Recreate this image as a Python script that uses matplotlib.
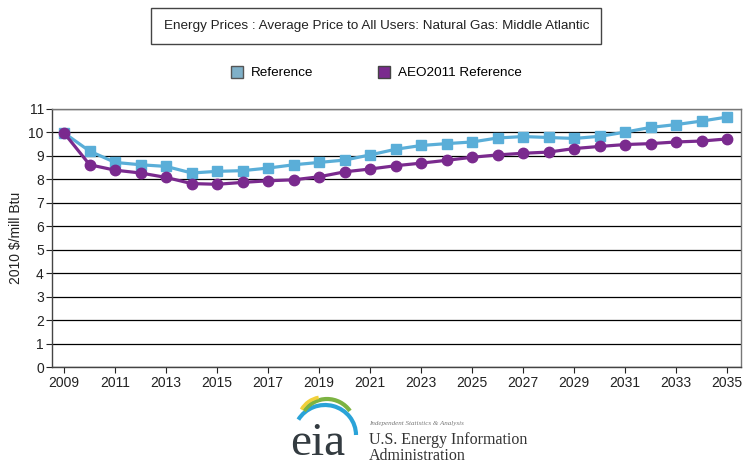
import numpy as np
import matplotlib
matplotlib.use("Agg")
import matplotlib.pyplot as plt
from matplotlib.patches import Arc

years = list(range(2009, 2036))
reference = [9.96, 9.19, 8.71, 8.61, 8.54, 8.26, 8.33, 8.36, 8.47, 8.61, 8.71, 8.81, 9.03,
             9.27, 9.43, 9.51, 9.58, 9.75, 9.81, 9.77, 9.73, 9.82, 10.0, 10.2, 10.32, 10.47, 10.64]
aeo2011 = [9.96, 8.61, 8.38, 8.26, 8.07, 7.81, 7.78, 7.86, 7.93, 7.97, 8.1, 8.31, 8.43,
           8.57, 8.68, 8.8, 8.93, 9.03, 9.1, 9.15, 9.3, 9.39, 9.47, 9.51, 9.58, 9.62, 9.71]
xlabels = [str(y) for y in range(2009, 2036, 2)]

plt.rcParams['font.family'] = ['Liberation Sans', 'DejaVu Sans']

fig = plt.figure(figsize=(7.45, 4.66), dpi=100)
ax = fig.add_axes([0.07, 0.212, 0.925, 0.555])

c_ref = '#5aaed8'
c_aeo = '#7a2a8e'
ax.plot(years, reference, color=c_ref, lw=2.3, marker='s', ms=6.5, label='Reference', zorder=3)
ax.plot(years, aeo2011, color=c_aeo, lw=2.3, marker='o', ms=7.5, label='AEO2011 Reference', zorder=4)

ax.set_xlim(2008.53, 2035.55)
ax.set_ylim(0, 11)
ax.set_yticks(range(0, 12))
ax.set_xticks(range(2009, 2036, 2))
ax.set_xticklabels(xlabels)
ax.tick_params(labelsize=10, colors='#222222', length=4, width=0.8, pad=2)
ax.yaxis.grid(True, color='black', lw=0.9)
ax.set_axisbelow(True)
for s in ax.spines.values():
    s.set_color('#777777')
    s.set_linewidth(1.0)
ax.spines['left'].set_color('#444444')
ax.spines['bottom'].set_color('#444444')
ax.set_ylabel('2010 $/mill Btu', fontsize=10, color='#222222', labelpad=4)

# title box
fig.text(0.505, 0.945, 'Energy Prices : Average Price to All Users: Natural Gas: Middle Atlantic',
         ha='center', va='center', fontsize=9.7, color='#222222',
         bbox=dict(boxstyle='square,pad=0.9', fc='white', ec='#444444', lw=1.0))

# legend
handles = [plt.Line2D([], [], ls='none', marker='s', ms=9, mfc='#7fb0c8', mec='#555555'),
           plt.Line2D([], [], ls='none', marker='s', ms=9, mfc=c_aeo, mec='#444444')]
fig.legend(handles, ['Reference', 'AEO2011 Reference'], loc='center', bbox_to_anchor=(0.5, 0.843),
           ncol=2, frameon=False, fontsize=9.7, handletextpad=0.05, columnspacing=4.2)

# eia logo
lax = fig.add_axes([285 / 745, 26 / 466, 75 / 745, 55 / 466])
lax.set_xlim(0, 75)
lax.set_ylim(0, 55)
lax.axis('off')
lax.add_patch(Arc((40, 5), 62, 60, theta1=0, theta2=150, color='#2aa3d8', lw=3))
lax.add_patch(Arc((42, 13), 56, 56, theta1=35, theta2=145, color='#7cb342', lw=3))
lax.add_patch(Arc((38, 18), 50, 50, theta1=100, theta2=150, color='#f2d03b', lw=2.5))
fig.text(318 / 745, 1 - 444 / 466, 'eia', ha='center', va='center', fontsize=34,
         family='Liberation Serif', color='#333b40')

fig.text(369 / 745, 1 - 424 / 466, 'Independent Statistics & Analysis', fontsize=5, style='italic',
         va='center', family='Liberation Serif', color='#777777')
fig.text(369 / 745, 1 - 440 / 466, 'U.S. Energy Information', fontsize=11.5, va='center',
         family='Liberation Serif', color='#333333')
fig.text(369 / 745, 1 - 456 / 466, 'Administration', fontsize=11.5, va='center',
         family='Liberation Serif', color='#333333')

fig.savefig('out.png', dpi=100)
